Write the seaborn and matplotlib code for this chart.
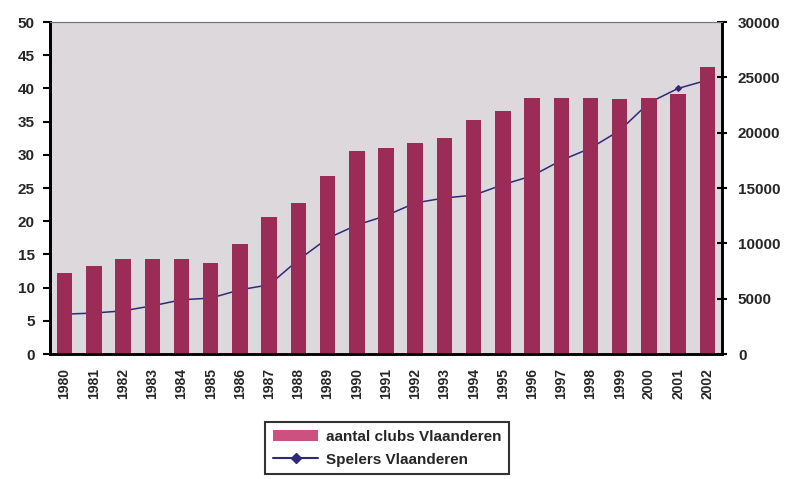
import numpy as np
import pandas as pd
import matplotlib
matplotlib.use("Agg")
import matplotlib.pyplot as plt
import seaborn as sns
from matplotlib.lines import Line2D
from matplotlib.patches import Patch

# Data
years = ["1980", "1981", "1982", "1983", "1984", "1985", "1986", "1987", "1988", "1989",
         "1990", "1991", "1992", "1993", "1994", "1995", "1996", "1997", "1998", "1999",
         "2000", "2001", "2002"]
clubs = [12.2, 13.3, 14.3, 14.3, 14.3, 13.7, 16.6, 20.7, 22.8, 26.8, 30.6, 31.0,
         31.8, 32.6, 35.2, 36.6, 38.5, 38.5, 38.5, 38.4, 38.5, 39.1, 43.2]
players = [3600, 3700, 3900, 4350, 4900, 5050, 5800, 6250, 8500, 10450, 11650, 12500,
           13650, 14100, 14350, 15300, 16100, 17500, 18600, 20200, 22700, 24000, 24750]
left_ticks = [0, 5, 10, 15, 20, 25, 30, 35, 40, 45, 50]
right_ticks = [0, 5000, 10000, 15000, 20000, 25000, 30000]

BAR_COLOR = "#9B2C57"
LEGEND_BAR = "#CC5080"
LINE_COLOR = "#2E2A78"
BG = "#DCD8DC"

df = pd.DataFrame({"year": years, "clubs": clubs, "players": players})

sns.set_style("white")
plt.rcParams["font.family"] = ["Liberation Sans", "DejaVu Sans"]
plt.rcParams["font.weight"] = "bold"

fig = plt.figure(figsize=(7.85, 4.79), dpi=100)
ax1 = fig.add_axes([50 / 785, 1 - 354 / 479, 672 / 785, 332 / 479])
ax2 = ax1.twinx()

# line axis sits behind the bars and carries the grey plot background
ax1.set_zorder(ax2.get_zorder() + 1)
ax1.patch.set_visible(False)
ax2.patch.set_visible(True)
ax2.patch.set_facecolor(BG)

sns.barplot(data=df, x="year", y="clubs", ax=ax1, color=BAR_COLOR, width=0.53,
            saturation=1, edgecolor="none")
sns.pointplot(data=df, x="year", y="players", ax=ax2, color=LINE_COLOR,
              markers="D", markersize=3, linewidth=1.1)

n = len(years)
ax1.set_xlim(-0.5, n - 0.5)
ax1.set_ylim(0, 50)
ax2.set_ylim(0, 30000)
ax1.set_yticks(left_ticks)
ax2.set_yticks(right_ticks)
ax1.set_xlabel("")
ax1.set_ylabel("")
ax2.set_xlabel("")
ax2.set_ylabel("")

ax1.set_xticks(range(n))
ax1.set_xticklabels(years, rotation=90, fontsize=10, fontweight="bold")
ax1.set_xticks(np.arange(-0.5, n, 1), minor=True)
ax1.tick_params(axis="x", which="major", length=0, pad=10)
ax1.tick_params(axis="x", which="minor", length=8, width=1.5, direction="inout", color="black")
ax1.tick_params(axis="y", length=5, width=1.5, direction="out", labelsize=11, color="black", pad=6)
ax2.tick_params(axis="y", length=7, width=1.5, direction="inout", labelsize=11, color="black", pad=8)
for lab in ax1.get_yticklabels() + ax2.get_yticklabels():
    lab.set_fontweight("bold")

for ax in (ax1, ax2):
    ax.spines["top"].set_color("#777777")
    ax.spines["top"].set_linewidth(0.8)
    ax.spines["left"].set_color("black")
    ax.spines["left"].set_linewidth(2)
    ax.spines["right"].set_color("black")
    ax.spines["right"].set_linewidth(1.8)
    ax.spines["bottom"].set_color("black")
    ax.spines["bottom"].set_linewidth(1.8)

handles = [Patch(facecolor=LEGEND_BAR, edgecolor="none"),
           Line2D([0], [0], color=LINE_COLOR, marker="D", markersize=5, linewidth=1.5)]
leg = fig.legend(handles, ["aantal clubs Vlaanderen", "Spelers Vlaanderen"],
                 loc="upper left", bbox_to_anchor=(265 / 785, 1 - 422 / 479),
                 frameon=True, fancybox=False, edgecolor="black",
                 prop={"weight": "bold", "size": 11}, handlelength=3.0,
                 handletextpad=0.5, borderpad=0.5, labelspacing=0.6, borderaxespad=0)
leg.get_frame().set_linewidth(1.5)

fig.savefig("out.png", dpi=100)
